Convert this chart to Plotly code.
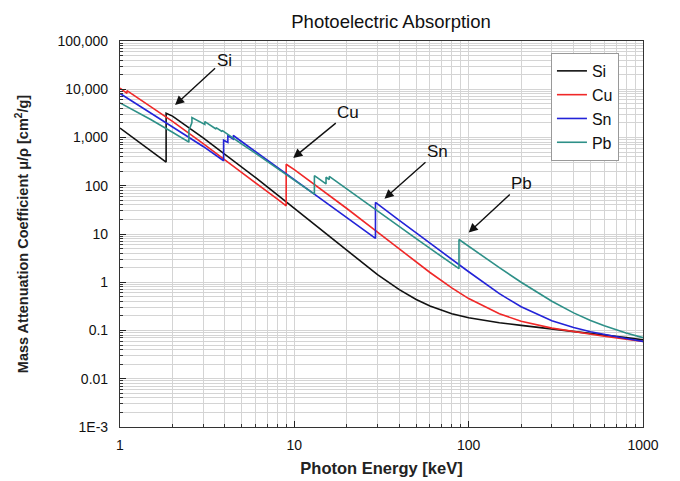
import math
import plotly.graph_objects as go

# ---- data (mass attenuation coefficient, cm^2/g) ----
E_si = [1.0, 1.5, 1.8389, 1.8389, 2.0, 3.0, 4.0, 5.0, 6.0, 8.0, 10, 15, 20, 30, 40, 50, 60, 80, 100,
        150, 200, 300, 400, 500, 600, 800, 1000]
mu_si = [1570, 535.5, 309.2, 3192, 2777, 978.4, 452.9, 245.0, 147.0, 64.68, 33.89, 10.34, 4.464, 1.436,
         0.7012, 0.4385, 0.3207, 0.2228, 0.1835, 0.1448, 0.1275, 0.1082, 0.09614, 0.08748, 0.08084,
         0.07113, 0.06398]

E_cu = [1.0, 1.0961, 1.0961, 1.5, 2.0, 3.0, 4.0, 5.0, 6.0, 8.0, 8.9789, 8.9789, 10, 15, 20, 30, 40, 50,
        60, 80, 100, 150, 200, 300, 400, 500, 600, 800, 1000]
mu_cu = [10570, 8242, 9347, 4418, 2154, 748.8, 347.3, 189.9, 115.3, 52.55, 38.29, 278.4, 215.9, 74.05,
         33.79, 10.92, 4.862, 2.613, 1.593, 0.763, 0.4584, 0.2217, 0.1559, 0.1119, 0.09413, 0.08362,
         0.07625, 0.06605, 0.05901]

E_sn = [1.0, 1.5, 2.0, 3.0, 3.929, 3.929, 4.156, 4.156, 4.465, 4.465, 5.0, 6.0, 8.0, 10, 15, 20, 29.2,
        29.2, 30, 40, 50, 60, 80, 100, 150, 200, 300, 400, 500, 600, 800, 1000]
mu_sn = [8157, 3210, 1656, 652, 330, 880, 790, 1080, 930, 1100, 817, 507, 239, 133, 46, 21.7, 8.1,
         45, 42.0, 19.2, 10.5, 6.4, 2.96, 1.65, 0.58, 0.31, 0.16, 0.115, 0.094, 0.082, 0.068, 0.0594]

E_pb = [1.0, 1.5, 2.0, 2.484, 2.484, 2.535, 2.586, 2.586, 3.0, 3.066, 3.066, 3.301, 3.554, 3.554,
        3.851, 3.851, 4.0, 5.0, 6.0, 8.0, 10, 13.035, 13.035, 15.2, 15.2, 15.861, 15.861, 20, 30, 40,
        50, 60, 80, 88.0, 88.0, 100, 150, 200, 300, 400, 500, 600, 800, 1000]
mu_pb = [5210, 2356, 1285, 800.6, 1397, 1726, 2042, 2600, 1965, 1860, 2140, 1800, 1500, 1600, 1330,
         1400, 1280, 730, 467, 229, 130.6, 67, 162, 109, 150, 134, 156, 86.4, 30.3, 14.4, 8.04, 5.02,
         2.42, 1.91, 7.68, 5.55, 2.01, 0.999, 0.403, 0.232, 0.161, 0.125, 0.0887, 0.071]

series_names = ["Si", "Cu", "Sn", "Pb"]
series_colors = ["#111111", "#f02828", "#2323d8", "#2e9088"]

y_tickvals = [1e5, 1e4, 1e3, 100, 10, 1, 0.1, 0.01, 0.001]
y_ticktext = ["100,000", "10,000", "1,000", "100", "10", "1", "0.1", "0.01", "1E-3"]
x_tickvals = [1, 10, 100, 1000]
x_ticktext = ["1", "10", "100", "1000"]

# annotations: label, energy at arrow head, value at arrow head, offsets (px)
ann_labels = ["Si", "Cu", "Sn", "Pb"]
ann_E = [2.07, 9.86, 32.9, 100.0]
ann_mu = [4700, 378, 54, 10.7]
ann_ax = [49, 55, 53, 53]
ann_ay = [-45, -45, -47, -49]

minor_x = [m * 10 ** d for d in range(0, 3) for m in range(2, 10)]
minor_y = [m * 10.0 ** d for d in range(-3, 5) for m in range(2, 10)]

fig = go.Figure()
for name, col, E, mu in zip(series_names, series_colors, [E_si, E_cu, E_sn, E_pb],
                            [mu_si, mu_cu, mu_sn, mu_pb]):
    fig.add_trace(go.Scatter(x=E, y=mu, mode="lines", name=name,
                             line=dict(color=col, width=1.6)))

for lab, e, m, ax, ay in zip(ann_labels, ann_E, ann_mu, ann_ax, ann_ay):
    fig.add_annotation(x=math.log10(e), y=math.log10(m),
                       text=lab, showarrow=True, arrowhead=2, arrowsize=1.3, arrowwidth=1.4,
                       arrowcolor="#111111", ax=ax, ay=ay,
                       font=dict(size=17, color="#111111"))

grid_col = "#d4d4d4"
fig.update_xaxes(type="log", range=[0, 3], tickmode="array", tickvals=x_tickvals,
                 ticktext=x_ticktext, showgrid=True, gridcolor=grid_col, gridwidth=1,
                 ticks="inside", ticklen=6, tickcolor="#222", showline=True, linecolor="#333",
                 linewidth=1.2, mirror=True, zeroline=False, ticklabelstandoff=5,
                 tickfont=dict(size=14, color="#111"),
                 minor=dict(tickmode="array", tickvals=minor_x, showgrid=True, gridcolor=grid_col,
                            gridwidth=1, ticks="inside", ticklen=3, tickcolor="#333"),
                 title=dict(text="<b>Photon Energy [keV]</b>", font=dict(size=16.5, color="#222"),
                            standoff=10))
fig.update_yaxes(type="log", range=[-3, 5], tickmode="array", tickvals=y_tickvals,
                 ticktext=y_ticktext, showgrid=True, gridcolor=grid_col, gridwidth=1,
                 ticks="inside", ticklen=6, tickcolor="#222", showline=True, linecolor="#333",
                 linewidth=1.2, mirror=True, zeroline=False, ticklabelstandoff=8,
                 tickfont=dict(size=14, color="#111"),
                 minor=dict(tickmode="array", tickvals=minor_y, showgrid=True, gridcolor=grid_col,
                            gridwidth=1, ticks="inside", ticklen=3, tickcolor="#333"),
                 title=dict(text="<b>Mass Attenuation Coefficient μ/ρ [cm<sup>2</sup>/g]</b>",
                            font=dict(size=14.5, color="#222"), standoff=25))

# page body adds an 8px offset, so the figure is sized to the visible area
fig.update_layout(
    width=672, height=473,
    margin=dict(l=112, r=37, t=33, b=54, autoexpand=False),
    paper_bgcolor="white", plot_bgcolor="white",
    font=dict(family="Liberation Sans, Arial, sans-serif", color="#111"),
    title=dict(text="Photoelectric Absorption", x=0.570, xref="container", xanchor="center",
               y=0.972, yref="container", yanchor="middle", font=dict(size=18.5, color="#111")),
    showlegend=True,
    legend=dict(x=0.824, y=0.969, xanchor="left", yanchor="top", bgcolor="white",
                bordercolor="#999", borderwidth=1, font=dict(size=16, color="#111"),
                tracegroupgap=0, itemwidth=30),
)

fig.write_html("out.html")
